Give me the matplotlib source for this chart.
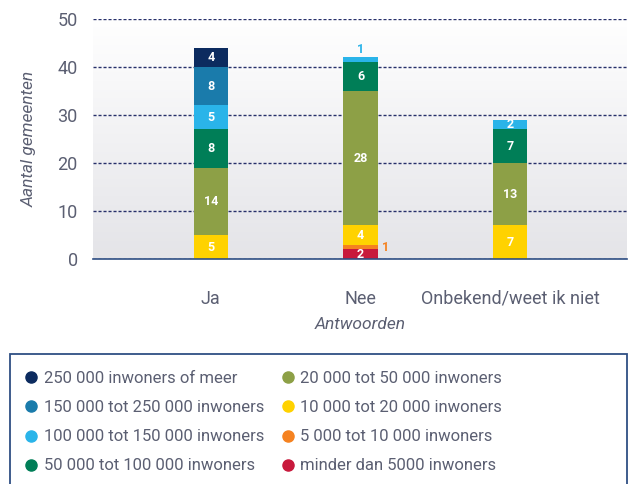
import matplotlib
matplotlib.use("Agg")
import matplotlib.pyplot as plt
import numpy as np
from matplotlib.lines import Line2D
from matplotlib.patches import Rectangle

categories = ["Ja", "Nee", "Onbekend/weet ik niet"]

# bottom to top
series_names = [
    "minder dan 5000 inwoners",
    "5 000 tot 10 000 inwoners",
    "10 000 tot 20 000 inwoners",
    "20 000 tot 50 000 inwoners",
    "50 000 tot 100 000 inwoners",
    "100 000 tot 150 000 inwoners",
    "150 000 tot 250 000 inwoners",
    "250 000 inwoners of meer",
]
minder_5k = [0, 2, 0]
k5_10 = [0, 1, 0]
k10_20 = [5, 4, 7]
k20_50 = [14, 28, 13]
k50_100 = [8, 6, 7]
k100_150 = [5, 1, 2]
k150_250 = [8, 0, 0]
k250_plus = [4, 0, 0]
series_values = [minder_5k, k5_10, k10_20, k20_50, k50_100, k100_150, k150_250, k250_plus]

colors = ["#c8193c", "#f58220", "#ffd200", "#8da046", "#007e57",
          "#2ab4e9", "#1a7bab", "#0c2b5f"]

# legend order as in the reference (two columns)
legend_order = [7, 6, 5, 4, 3, 2, 1, 0]

text_col = "#5b5f72"
grid_col = "#27306a"

plt.rcParams["font.family"] = ["Roboto", "DejaVu Sans"]

fig = plt.figure(figsize=(6.29, 4.84), dpi=100)
ax = fig.add_axes([93 / 629, 1 - 259 / 484, (627 - 93) / 629, 240 / 484])

x = np.arange(len(categories))
width = 0.23

# background gradient
grad = np.linspace(1, 0, 256).reshape(-1, 1)
ax.imshow(grad, extent=[0, 1, 0, 1], transform=ax.transAxes, aspect="auto",
          cmap=matplotlib.colors.LinearSegmentedColormap.from_list(
              "bg", ["#e4e4e8", "#ffffff"]), zorder=0)

bottom = np.zeros(len(categories))
for name, vals, col in zip(series_names, series_values, colors):
    vals = np.array(vals, dtype=float)
    ax.bar(x, vals, width, bottom=bottom, color=col, zorder=3, label=name)
    for i, v in enumerate(vals):
        if v <= 0:
            continue
        yc = bottom[i] + v / 2
        if v >= 2:
            ax.text(x[i], yc, f"{int(v)}", ha="center", va="center",
                    color="white", fontsize=9, fontweight="bold", zorder=4)
    bottom += vals

# small segments labelled outside the Nee bar
ax.text(x[1], 42.3, "1", ha="center", va="bottom", color=colors[5],
        fontsize=9, fontweight="bold", zorder=4)
ax.text(x[1] + width / 2 + 0.03, 2.5, "1", ha="left", va="center",
        color=colors[1], fontsize=9, fontweight="bold", zorder=4)

ax.set_xlim(-0.787, 2.78)
ax.set_ylim(0, 50)
ax.set_yticks([0, 10, 20, 30, 40, 50])
ax.yaxis.grid(True, color=grid_col, linestyle=(0, (2.2, 1.4)), linewidth=1.0, zorder=1)
ax.set_axisbelow(True)
for s in ["top", "left", "right"]:
    ax.spines[s].set_visible(False)
ax.spines["bottom"].set_color("#2f4f84")
ax.spines["bottom"].set_linewidth(1.2)
ax.spines["bottom"].set_zorder(5)

ax.set_xticks(x)
ax.set_xticklabels(categories)
ax.tick_params(axis="x", length=0, pad=22, labelsize=13, labelcolor=text_col)
ax.tick_params(axis="y", length=0, pad=11, labelsize=13, labelcolor=text_col)

ax.set_xlabel("Antwoorden", fontsize=12.5, style="italic", color=text_col, labelpad=7)
ax.set_ylabel("Aantal gemeenten", fontsize=12.5, style="italic", color=text_col,
              labelpad=15)

# legend box (cut off at bottom edge as in the reference)
fig.patches.append(Rectangle((10 / 629, -0.05), 617 / 629, 1.05 - 354 / 484,
                             transform=fig.transFigure, fill=False,
                             edgecolor="#2f4f84", linewidth=1.3))

handles = [Line2D([], [], marker="o", linestyle="", markersize=8,
                  color=colors[k]) for k in legend_order]
labels = [series_names[k] for k in legend_order]
fig.legend(handles, labels, ncol=2, loc="upper left",
           bbox_to_anchor=(8 / 629, 1 - 356 / 484), frameon=False,
           fontsize=12, labelcolor=text_col, handletextpad=0.25,
           columnspacing=0.9, labelspacing=0.85, handlelength=1.0)

fig.savefig("out.png", dpi=100)
